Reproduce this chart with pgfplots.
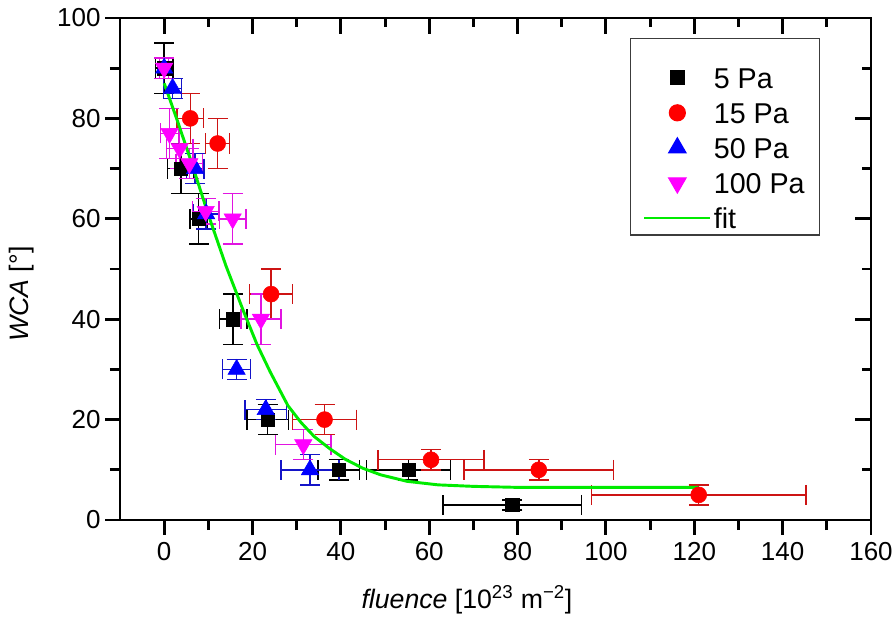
\documentclass[border=0pt]{standalone}
\usepackage{pgfplots}
\usepackage{pgfplotstable}
\pgfplotsset{compat=1.18}
\usepackage{fontspec}
\setmainfont{Liberation Sans}
\definecolor{errred}{RGB}{205,20,20}
\definecolor{errblue}{RGB}{20,20,200}
\definecolor{errmag}{RGB}{225,20,225}
\definecolor{mag}{RGB}{255,0,255}
\definecolor{fitgreen}{RGB}{0,235,0}
\definecolor{legframe}{RGB}{60,60,60}

\pgfplotstableread{
x y ex ey
0 90 2 5
3.8 70 3 5
7.8 60 2 5
15.6 40 3.1 5
23.4 20 4.7 3
39.5 10 4.7 2
55.3 10 9.5 2
78.8 3 15.7 1
}\blackdata

\pgfplotstableread{
x y ex ey
5.9 80 3 5
12.1 75 2.7 5
24.2 45 4.85 5
36.3 20 7.25 3
60.4 12 12 2
84.8 10 16.9 2
121 5 24.3 2
}\reddata

\pgfplotstableread{
x y ex ey
0 90 1 2
1.9 86 2 2
7 70 2 3
9.5 61 3 3
16.4 30 3.2 2
23 22 4.75 2
33 10 6.6 3
}\bluedata

\pgfplotstableread{
x y ex ey
0 90 1 2
1.2 77 2 5
3.5 74 3 4
5.7 71 3 3
9.4 61.5 3 2.5
15.5 60 3 5
21.9 40 4.5 5
31.5 15 6.25 3
}\magdata

\pgfplotstableread{
x y
0 87
3 79.5
6 71.7
10 60.8
14 50.6
18 41.5
21 35
24 29.5
28 22.8
31 19.4
34 16.6
37.5 14.2
41 12.1
45 10.3
49 9.0
55 7.7
62 7.0
70 6.7
80 6.5
100 6.5
121 6.5
}\fitdata

\begin{document}
\begin{tikzpicture}
\pgfplotsset{
  base/.style={
    scale only axis, width=563.25pt, height=376.5pt,
    at={(0,0)}, anchor=south west,
    xmin=-10, xmax=160, ymin=0, ymax=100,
    xtick={0,20,...,160}, ytick={0,20,...,100},
    minor x tick num=1, minor y tick num=1,
    axis line style={line width=2.2pt, line cap=rect},
    major tick style={line width=2.2pt, black},
    minor tick style={line width=2.2pt, black},
  }
}
\begin{axis}[base,
  tick align=outside, xtick pos=left, ytick pos=left,
  major tick length=11pt, minor tick length=7.5pt,
  /pgf/number format/assume math mode=true,
  tick label style={font=\fontsize{19.5}{22}\selectfont},
  xticklabel style={yshift=-2pt},
  label style={font=\fontsize{20}{23}\selectfont},
  xlabel={\textit{fluence} [10\textsuperscript{23} m\textsuperscript{−2}]},
  ylabel={\textit{WCA} [°]},
  xlabel style={at={(axis description cs:0.462,-0.1594)}, anchor=center},
  ylabel style={at={(axis description cs:-0.1305,0.45)}, anchor=center},
  legend style={at={(rel axis cs:0.932,0.960)}, anchor=north east,
    draw=legframe, line width=0.9pt, fill=white,
    font=\fontsize{21.5}{24}\selectfont,
    nodes={inner ysep=0pt, inner xsep=1.5pt, text height=32pt, text depth=0pt},
    row sep=-5.7pt, inner xsep=9.5pt, inner ysep=5pt},
  legend cell align=left,
  legend image code/.code={\draw[yshift=-8.3pt, mark repeat=2,mark phase=2] plot coordinates {(0pt,0pt)(24.75pt,0pt)(49.5pt,0pt)};},
]
\addplot[only marks, mark=square*, mark size=5pt, black,
  error bars/.cd, x dir=both, x explicit, y dir=both, y explicit,
  error bar style={line width=1.1pt, black},
  error mark options={rotate=90, line width=1.1pt, mark size=7.5pt, black}]
  table[x=x, y=y, x error=ex, y error=ey] {\blackdata};
\addlegendentry{5 Pa}
\addplot[only marks, mark=*, mark size=6pt, red,
  error bars/.cd, x dir=both, x explicit, y dir=both, y explicit,
  error bar style={line width=1.1pt, errred},
  error mark options={rotate=90, line width=1.1pt, mark size=7.5pt, errred}]
  table[x=x, y=y, x error=ex, y error=ey] {\reddata};
\addlegendentry{15 Pa}
\addplot[only marks, mark=triangle*, mark size=7.5pt, blue,
  error bars/.cd, x dir=both, x explicit, y dir=both, y explicit,
  error bar style={line width=1.1pt, errblue},
  error mark options={rotate=90, line width=1.1pt, mark size=7.5pt, errblue}]
  table[x=x, y=y, x error=ex, y error=ey] {\bluedata};
\addlegendentry{50 Pa}
\addplot[only marks, mark=triangle*, mark size=7.5pt, mag, mark options={rotate=180},
  error bars/.cd, x dir=both, x explicit, y dir=both, y explicit,
  error bar style={line width=1.1pt, errmag},
  error mark options={rotate=90, line width=1.1pt, mark size=7.5pt, errmag}]
  table[x=x, y=y, x error=ex, y error=ey] {\magdata};
\addlegendentry{100 Pa}
\addplot[no marks, fitgreen, line width=2.2pt] table[x=x, y=y] {\fitdata};
\addlegendentry{fit}
\end{axis}
\begin{axis}[base,
  tick align=inside, xtick pos=right, ytick pos=right,
  major tick length=12pt, minor tick length=7pt,
  xticklabels={}, yticklabels={},
]
\end{axis}
\pgfresetboundingbox
\path[use as bounding box] (-90pt,-76.5pt) rectangle (582pt,390pt);
\end{tikzpicture}
\end{document}
